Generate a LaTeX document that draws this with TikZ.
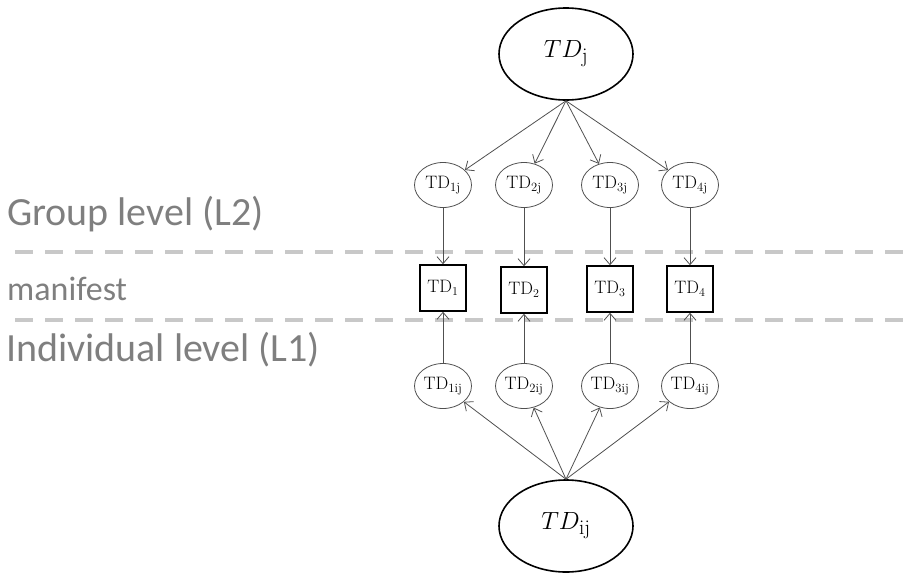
\documentclass[tikz,border=0pt]{standalone}
\usepackage{fontspec}
\newfontfamily\lvlfont{Carlito}
\usetikzlibrary{arrows.meta,shapes.geometric}
\definecolor{lvlgray}{HTML}{7F7F7F}
\definecolor{dashgray}{HTML}{C8C8C8}
\definecolor{linegray}{HTML}{505050}
\tikzset{
  bigell/.style={ellipse,draw=black,line width=1.6pt,minimum width=134pt,minimum height=92pt,inner sep=0pt,font=\fontsize{30}{31}\selectfont},
  smallell/.style={ellipse,draw=linegray,line width=0.8pt,minimum width=57pt,minimum height=45pt,inner sep=0pt,font=\fontsize{18}{19}\selectfont},
  obsbox/.style={rectangle,draw=black,line width=1.5pt,minimum size=46pt,inner sep=0pt,font=\fontsize{18}{19}\selectfont},
  conn/.style={draw=linegray,line width=0.8pt,-{Straight Barb[length=7pt,width=12pt]}},
  dashline/.style={dashgray,line width=4.5pt,dash pattern=on 18pt off 12pt},
  lvltext/.style={anchor=base west,inner sep=0pt,text=lvlgray,font=\lvlfont\fontsize{40}{42}\selectfont}
}
\begin{document}
\begin{tikzpicture}[x=1pt,y=-1pt]
				\useasboundingbox (0,0) rectangle (905,573);
				% levels
				\coordinate (dA1) at (15,252);
				\coordinate (dA2) at (905,252);
				\coordinate (dB1) at (15,320);
				\coordinate (dB2) at (905,320);
				\draw[dashline] (dA1) -- (dA2);
				\draw[dashline] (dB1) -- (dB2);
				\node[lvltext] (grp) at (7,225) {Group level (L2)};
				\node[lvltext,font=\lvlfont\fontsize{34}{36}\selectfont] (man) at (7,300) {manifest};
				\node[lvltext] (ind) at (6,361) {Individual level (L1)};

				% latent variables
				\node[bigell] (tdj) at (566,54) {$TD_{\mathrm{j}}$};
				\node[bigell] (tdij) at (566,526) {$TD_{\mathrm{ij}}$};

				\node[smallell] (g1) at (443,185) {TD$_{\mathrm{1j}}$};
				\node[smallell] (g2) at (524,185) {TD$_{\mathrm{2j}}$};
				\node[smallell] (g3) at (610,185) {TD$_{\mathrm{3j}}$};
				\node[smallell] (g4) at (690,185) {TD$_{\mathrm{4j}}$};

				\node[obsbox] (m1) at (443,288) {TD$_{1}$};
				\node[obsbox] (m2) at (524,290) {TD$_{2}$};
				\node[obsbox] (m3) at (610,289) {TD$_{3}$};
				\node[obsbox] (m4) at (690,289) {TD$_{4}$};

				\node[smallell] (i1) at (443,386) {TD$_{\mathrm{1ij}}$};
				\node[smallell] (i2) at (524,386) {TD$_{\mathrm{2ij}}$};
				\node[smallell] (i3) at (610,386) {TD$_{\mathrm{3ij}}$};
				\node[smallell] (i4) at (690,386) {TD$_{\mathrm{4ij}}$};

				% paths
				\foreach \k in {1,2,3,4}{
					\draw[conn] (tdj.south) -- (g\k);
					\draw[conn] (g\k) -- (m\k);
					\draw[conn] (i\k) -- (m\k);
					\draw[conn] (tdij.north) -- (i\k);
				}

		\end{tikzpicture}
\end{document}
